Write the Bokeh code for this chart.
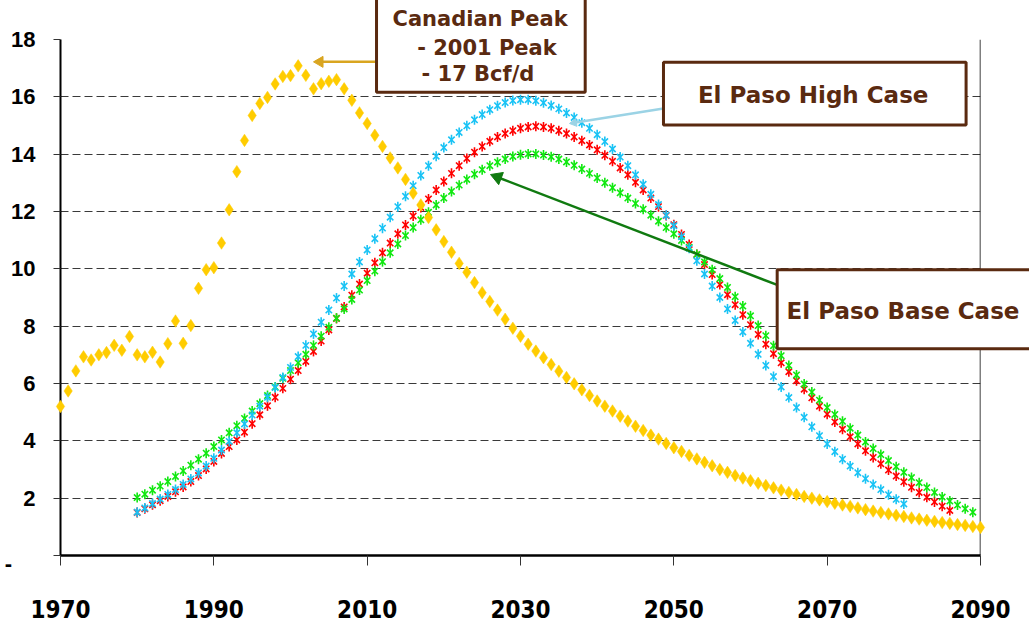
import math
from bokeh.plotting import figure
from bokeh.models import Range1d, FixedTicker, Span
from bokeh.core.properties import value
from bokeh.embed import file_html
from bokeh.resources import INLINE

# ---------------- data ----------------
x_ticks = [1970, 1990, 2010, 2030, 2050, 2070, 2090]
y_ticks = [0, 2, 4, 6, 8, 10, 12, 14, 16, 18]

canada_years = list(range(1970, 2091))
canada = [5.20, 5.74, 6.44, 6.93, 6.82, 7.00, 7.08, 7.33, 7.16, 7.64,
          7.00, 6.93, 7.09, 6.75, 7.39, 8.18, 7.40, 8.02, 9.32, 9.97,
          10.04, 10.90, 12.06, 13.39, 14.48, 15.35, 15.77, 15.98, 16.45, 16.71,
          16.74, 17.08, 16.75, 16.28, 16.46, 16.54, 16.60, 16.28, 15.88, 15.44,
          15.07, 14.66, 14.27, 13.87, 13.52, 13.12, 12.64, 12.23, 11.79, 11.36,
          10.95, 10.58, 10.19, 9.88, 9.52, 9.17, 8.86, 8.56, 8.24, 7.93,
          7.65, 7.37, 7.13, 6.90, 6.66, 6.43, 6.21, 5.99, 5.78, 5.58,
          5.39, 5.21, 5.04, 4.86, 4.69, 4.51, 4.36, 4.20, 4.06, 3.91,
          3.76, 3.63, 3.49, 3.37, 3.25, 3.13, 3.00, 2.90, 2.79, 2.70,
          2.61, 2.52, 2.44, 2.36, 2.28, 2.20, 2.13, 2.06, 2.00, 1.94,
          1.88, 1.82, 1.76, 1.71, 1.66, 1.60, 1.55, 1.50, 1.45, 1.40,
          1.36, 1.31, 1.27, 1.23, 1.19, 1.15, 1.12, 1.08, 1.05, 1.01,
          0.98]

high_years = list(range(1980, 2081))
high_case = [1.51, 1.66, 1.81, 1.97, 2.13, 2.30, 2.48, 2.67, 2.88, 3.12,
             3.39, 3.68, 3.98, 4.28, 4.59, 4.90, 5.21, 5.52, 5.86, 6.21,
             6.56, 6.94, 7.33, 7.73, 8.14, 8.56, 8.98, 9.40, 9.82, 10.24,
             10.66, 11.05, 11.42, 11.80, 12.17, 12.53, 12.90, 13.26, 13.60, 13.93,
             14.23, 14.50, 14.76, 14.99, 15.20, 15.38, 15.55, 15.69, 15.80, 15.87,
             15.90, 15.90, 15.86, 15.79, 15.70, 15.58, 15.44, 15.28, 15.10, 14.90,
             14.68, 14.44, 14.18, 13.90, 13.60, 13.28, 12.95, 12.60, 12.24, 11.87,
             11.50, 11.12, 10.72, 10.28, 9.82, 9.40, 9.00, 8.60, 8.20, 7.80,
             7.40, 7.02, 6.63, 6.24, 5.88, 5.51, 5.16, 4.82, 4.49, 4.18,
             3.89, 3.62, 3.36, 3.12, 2.89, 2.68, 2.48, 2.30, 2.12, 1.96,
             1.80]

mid_years = list(range(1980, 2087))
mid_case = [1.50, 1.63, 1.77, 1.91, 2.06, 2.22, 2.39, 2.58, 2.79, 3.02,
            3.28, 3.56, 3.80, 4.03, 4.30, 4.60, 4.91, 5.22, 5.52, 5.83,
            6.15, 6.45, 6.77, 7.12, 7.48, 7.87, 8.27, 8.67, 9.08, 9.47,
            9.85, 10.21, 10.56, 10.90, 11.22, 11.53, 11.84, 12.14, 12.44, 12.75,
            13.05, 13.33, 13.60, 13.85, 14.07, 14.27, 14.45, 14.60, 14.72, 14.82,
            14.90, 14.95, 14.97, 14.95, 14.90, 14.82, 14.72, 14.60, 14.47, 14.32,
            14.15, 13.96, 13.75, 13.52, 13.28, 13.02, 12.75, 12.47, 12.17, 11.86,
            11.54, 11.20, 10.85, 10.50, 10.15, 9.80, 9.45, 9.10, 8.75, 8.40,
            8.05, 7.71, 7.37, 7.04, 6.72, 6.41, 6.10, 5.80, 5.50, 5.21,
            4.93, 4.66, 4.40, 4.14, 3.89, 3.65, 3.42, 3.20, 2.98, 2.77,
            2.57, 2.38, 2.20, 2.03, 1.87, 1.72, 1.57]

base_years = list(range(1980, 2090))
base_case = [2.02, 2.14, 2.28, 2.42, 2.58, 2.76, 2.95, 3.15, 3.36, 3.57,
             3.80, 4.03, 4.28, 4.53, 4.78, 5.04, 5.30, 5.58, 5.88, 6.18,
             6.45, 6.72, 7.02, 7.33, 7.65, 7.96, 8.28, 8.60, 8.93, 9.26,
             9.59, 9.92, 10.25, 10.56, 10.87, 11.16, 11.44, 11.71, 11.97, 12.23,
             12.47, 12.70, 12.92, 13.12, 13.30, 13.46, 13.60, 13.72, 13.83, 13.92,
             13.98, 14.01, 14.01, 13.97, 13.91, 13.83, 13.73, 13.61, 13.48, 13.33,
             13.17, 13.00, 12.83, 12.65, 12.47, 12.28, 12.08, 11.87, 11.66, 11.44,
             11.22, 10.99, 10.75, 10.50, 10.24, 9.97, 9.66, 9.35, 9.03, 8.70,
             8.36, 8.02, 7.67, 7.32, 6.97, 6.63, 6.30, 5.98, 5.70, 5.42,
             5.16, 4.92, 4.68, 4.44, 4.20, 3.96, 3.73, 3.52, 3.31, 3.10,
             2.90, 2.72, 2.54, 2.37, 2.20, 2.04, 1.90, 1.76, 1.63, 1.51]

# ---------------- styles ----------------
GOLD = "#FFCC00"
CYAN = "#19C3F5"
RED = "#FF0000"
GREEN = "#10E810"
BROWN = "#5A2A10"
BOX_FONT = "DejaVu Sans"

FRAME_W, FRAME_H = 920, 516
X0, X1, Y0, Y1 = 1970, 2090, 0, 18
PX_PER_X = FRAME_W / (X1 - X0)
PX_PER_Y = FRAME_H / (Y1 - Y0)

p = figure(width=1029, height=629, output_backend="svg", toolbar_location=None,
           x_range=Range1d(X0, X1), y_range=Range1d(Y0, Y1),
           min_border_left=60, min_border_right=49, min_border_top=39,
           min_border_bottom=74)
p.outline_line_color = None
p.background_fill_color = "white"
p.border_fill_color = "white"

p.xgrid.visible = False
p.ygrid.grid_line_color = "#3a3a3a"
p.ygrid.grid_line_dash = "8 4"
p.ygrid.grid_line_width = 1

p.xaxis.ticker = FixedTicker(ticks=x_ticks)
p.yaxis.ticker = FixedTicker(ticks=y_ticks)
p.yaxis.major_label_overrides = {0: " "}

for ax in (p.xaxis[0], p.yaxis[0]):
    ax.axis_line_color = "black"
    ax.major_tick_line_color = "#333333"
    ax.minor_tick_line_color = None
    ax.major_tick_in = 0
    ax.major_label_text_font_style = "bold"
    ax.major_label_text_color = "black"

p.yaxis.axis_line_width = 2
p.yaxis.major_tick_out = 7
p.yaxis.major_label_text_font = "Liberation Sans"
p.yaxis.major_label_text_font_size = "22px"
p.yaxis.major_label_standoff = 18

p.xaxis.axis_line_width = 2.5
p.xaxis.major_tick_out = 10
p.xaxis.major_label_text_font = "DejaVu Sans Condensed"
p.xaxis.major_label_text_font_size = "24px"
p.xaxis.major_label_standoff = 34

p.add_layout(Span(location=2090, dimension="height", line_color="black",
                  line_width=1.5))

# ---------------- series ----------------
for yrs, vals, col in ((mid_years, mid_case, RED),
                       (base_years, base_case, GREEN),
                       (high_years, high_case, CYAN)):
    p.scatter(yrs, vals, marker="x", size=9, line_color=col, line_width=1.6)
    p.scatter(yrs, vals, marker="dash", angle=math.pi / 2, size=10,
              line_color=col, line_width=1.6)

p.scatter(canada_years, canada, marker="diamond", size=12.5, fill_color=GOLD,
          line_color=GOLD, line_width=0.5, level="overlay")

# ---------------- annotations (drawn as unclipped overlay glyphs) ----------
# zero tick label shown as a dash
p.text(x=[1963.2], y=[-0.28], text=["-"], text_font=value("Liberation Sans"),
       text_font_style="bold", text_font_size=value("22px"), text_color="black",
       text_align="center", text_baseline="middle", level="overlay")


def arrow(xs, ys, xe, ye, color, width, head):
    dx = (xe - xs) * PX_PER_X
    dy = (ye - ys) * PX_PER_Y
    L = math.hypot(dx, dy)
    ux, uy = dx / L, dy / L
    back = 0.577 * head
    cx = xe - ux * back / PX_PER_X
    cy = ye - uy * back / PX_PER_Y
    p.segment(x0=[xs], y0=[ys], x1=[cx], y1=[cy], line_color=color,
              line_width=width, level="overlay")
    ang = math.atan2(dy, dx) - math.pi / 2
    p.scatter(x=[cx], y=[cy], marker="triangle", size=head, angle=ang,
              fill_color=color, line_color=color, line_width=1,
              level="overlay")


arrow(2011.22, 17.22, 2003.0, 17.22, "#D9A520", 2.5, 11)
arrow(2048.65, 15.59, 2036.39, 15.07, "#9BD3E5", 2.5, 8)
arrow(2063.48, 9.44, 2026.09, 13.29, "#107A10", 2.5, 13)

box_left = [2011.22, 2048.65, 2063.48]
box_right = [2038.44, 2088.12, 2096.6]
box_top = [19.53, 17.21, 9.966]
box_bottom = [16.16, 15.02, 7.21]
p.quad(left=box_left, right=box_right, top=box_top, bottom=box_bottom,
       fill_color="white", fill_alpha=1.0, line_color=BROWN, line_width=3,
       level="overlay")

p.text(x=[2013.30, 2016.52, 2017.09], y=[18.73, 17.71, 16.79],
       text=["Canadian Peak", "- 2001 Peak", "- 17 Bcf/d"],
       text_font=value(BOX_FONT), text_font_style="bold",
       text_font_size=value("21px"), text_color=BROWN, text_align="left",
       text_baseline="middle", level="overlay")
p.text(x=[2053.14, 2064.70], y=[16.07, 8.52],
       text=["El Paso High Case", "El Paso Base Case"],
       text_font=value(BOX_FONT), text_font_style="bold",
       text_font_size=value("23px"), text_color=BROWN, text_align="left",
       text_baseline="middle", level="overlay")

open("out.html", "w").write(file_html(p, INLINE))
